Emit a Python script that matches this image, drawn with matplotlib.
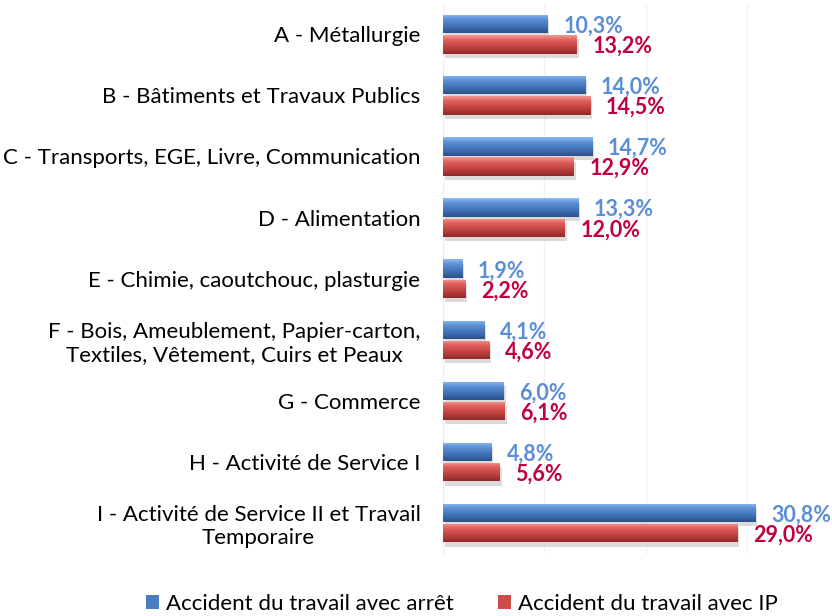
import numpy as np
import matplotlib
matplotlib.use("Agg")
import matplotlib.pyplot as plt
from matplotlib.colors import LinearSegmentedColormap
import matplotlib.patheffects as pe
from matplotlib.patches import Patch

categories = [
    "A - Métallurgie",
    "B - Bâtiments et Travaux Publics",
    "C - Transports, EGE, Livre, Communication",
    "D - Alimentation",
    "E - Chimie, caoutchouc, plasturgie",
    "F - Bois, Ameublement, Papier-carton,\nTextiles, Vêtement, Cuirs et Peaux",
    "G - Commerce",
    "H - Activité de Service I",
    "I - Activité de Service II et Travail\nTemporaire",
]
arret = [10.3, 14.0, 14.7, 13.3, 1.9, 4.1, 6.0, 4.8, 30.8]
ip = [13.2, 14.5, 12.9, 12.0, 2.2, 4.6, 6.1, 5.6, 29.0]
series_names = ["Accident du travail avec arrêt", "Accident du travail avec IP"]

plt.rcParams['font.family'] = ['Lato', 'DejaVu Sans']

fig = plt.figure(figsize=(8.32, 6.16), dpi=100)
ax = fig.add_axes([0.532, 0.101, 0.427, 0.893])

n = len(categories)
y = np.arange(n)
h = 0.30
off = 0.165

blue_cmap = LinearSegmentedColormap.from_list(
    "b", ["#8EBBEE", "#5E93D8", "#4A7DC2", "#3B69AA", "#2B5189"])
red_cmap = LinearSegmentedColormap.from_list(
    "r", ["#F49A97", "#E0605C", "#CD4B48", "#B03B39", "#8C2A2A"])

shadow = [pe.SimplePatchShadow(offset=(1.5, -3), shadow_rgbFace="#999999", alpha=0.35), pe.Normal()]
b1 = ax.barh(y - off, arret, height=h, color="#4A7DC2", edgecolor="none", zorder=3)
b2 = ax.barh(y + off, ip, height=h, color="#CD4B48", edgecolor="none", zorder=3)

grad = np.linspace(0, 1, 64).reshape(-1, 1)
for bars, cmap in ((b1, blue_cmap), (b2, red_cmap)):
    for r in bars:
        r.set_path_effects(shadow)
        x0, y0 = r.get_x(), r.get_y()
        w, hh = r.get_width(), r.get_height()
        im = ax.imshow(grad, cmap=cmap, aspect="auto",
                       extent=[x0, x0 + w, y0 + hh, y0], zorder=4,
                       interpolation="bicubic")
        im.set_clip_path(r)

ax.set_xlim(0, 35)
ax.set_ylim(n - 0.5, -0.5)
ax.set_yticks(y)
ax.set_yticklabels(categories, fontsize=16, multialignment="center")
ax.tick_params(axis="y", length=0, pad=16)
ax.set_xticks([0, 10, 20, 30])
ax.tick_params(axis="x", length=0, labelbottom=False)
ax.grid(axis="x", color="#F2F2F2", linewidth=1, zorder=0)
for s in ("top", "right", "bottom"):
    ax.spines[s].set_visible(False)
ax.spines["left"].set_color("#EDEDED")

fmt = lambda v: f"{v:.1f}%".replace(".", ",")
for yi, v in zip(y, arret):
    ax.annotate(fmt(v), (v, yi - off), xytext=(11.5, -1.5), textcoords="offset points",
                va="center", ha="left", fontsize=15.5, fontweight="bold",
                color="#5B8ED6", zorder=6, annotation_clip=False)
for yi, v in zip(y, ip):
    ax.annotate(fmt(v), (v, yi + off), xytext=(11.5, -1.5), textcoords="offset points",
                va="center", ha="left", fontsize=15.5, fontweight="bold",
                color="#C0003F", zorder=6, annotation_clip=False)

handles = [Patch(facecolor="#4A7DC2"), Patch(facecolor="#CD4B48")]
fig.legend(handles, series_names, loc="center", bbox_to_anchor=(0.555, 0.02),
           ncol=2, frameon=False, fontsize=16, handlelength=0.6, handleheight=0.6,
           handletextpad=0.3, columnspacing=2.0)

fig.savefig("out.png", dpi=100)
